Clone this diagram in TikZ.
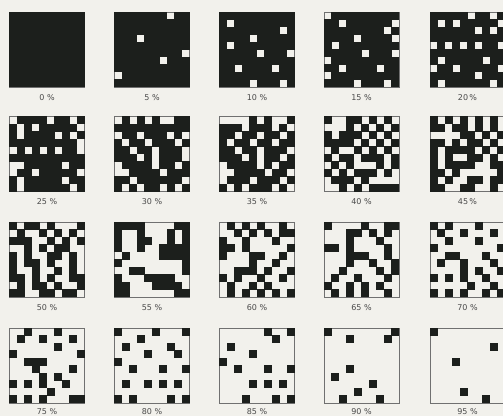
\documentclass[tikz,border=0pt]{standalone}
\usepackage{fontspec}
\setmainfont{DejaVu Sans}
\definecolor{paper}{HTML}{F2F1EC}
\definecolor{inkc}{HTML}{1C1F1C}
\definecolor{framec}{HTML}{707070}
\definecolor{labelc}{HTML}{4A4A4A}
\tikzset{
  inkfill/.style={fill=inkc},
  tileframe/.style={draw=framec, line width=0.7pt},
  lbl/.style={font=\fontsize{8}{9}\selectfont, text=labelc, inner sep=0pt, anchor=center}
}
\newcount\colidx
\def\lbloff{85.5}
\def\tilerow#1{\colidx=0 \tilerowA#1\relax}
\def\tilerowA#1{%
  \ifx#1\relax\else
    \if#1X\fill[inkfill] ({\tx+\the\colidx*7.5-0.15},{\ty+\ri*7.5-0.15}) rectangle ++(7.8,7.8);\fi
    \advance\colidx by 1
    \expandafter\tilerowA
  \fi}
\newcommand\drawtile[5]{%
  \def\tx{#1}\def\ty{#2}%
  \draw[tileframe] (#1,#2) rectangle ++(75,75);
  \foreach \rowstr [count=\ri from 0] in {#3}{\expandafter\tilerow\expandafter{\rowstr}}
  \node[lbl] (#5) at (#1+37.5,#2+\lbloff) {#4};
}
\begin{document}
\begin{tikzpicture}[x=1pt,y=-1pt]
\fill[paper] (0,0) rectangle (503,416);
\useasboundingbox (0,0) rectangle (503,416);
% row 1
\drawtile{9.5}{12}{XXXXXXXXXX,XXXXXXXXXX,XXXXXXXXXX,XXXXXXXXXX,XXXXXXXXXX,XXXXXXXXXX,XXXXXXXXXX,XXXXXXXXXX,XXXXXXXXXX,XXXXXXXXXX}{0 \%}{l0}
\drawtile{114.5}{12}{XXXXXXXoXX,XXXXXXXXXX,XXXXXXXXXX,XXXoXXXXXX,XXXXXXXXXX,XXXXXXXXXo,XXXXXXoXXX,XXXXXXXXXX,oXXXXXXXXX,XXXXXXXXXX}{5 \%}{l5}
\drawtile{219.5}{12}{XXXXXXXXXX,XoXXXXXXXX,XXXXXXXXoX,XXXXoXXXXX,XoXXXXXXXX,XXXXXoXXXo,XXXXXXXXXX,XXoXXXXoXX,XXXXXXXXXX,XXXXoXXXoX}{10 \%}{l10}
\drawtile{324}{12}{oXXXXXXXXX,XXoXXXXXXo,XXXXXXXXoX,XXXXoXXXXo,XoXXXXXXXX,XXXXXoXXXo,oXXXXXXXXX,XXoXXXXoXX,oXXXXXXXXX,XXXXoXXXoX}{15 \%}{l15}
\drawtile{430}{12}{XXXXXoXXoX,XoXoXXXXXo,XXXXXXoXoX,XXXXXXXXXX,oXoXoXoXXo,XXXXXXXXXX,XoXXXXXoXX,oXXoXXXXXo,XXXXXXoXXX,XoXXXXXXoX}{20\,\%}{l20}
% row 2
\drawtile{9.5}{116.5}{oXXXXoXXoX,XoXoXXXXXo,XoXXXXoXoX,XXXXXXXXXo,oXoXoXoXXo,XXXXXXXXXX,ooXXXXXoXX,oXXoXXXXXo,XoXXXXXoXX,XoXXXXXXoX}{25 \%}{l25}
\drawtile{114.5}{116.5}{oXoXoXooXX,XXXXXXXXXX,oXXoXXXoXo,XoXXoXXXoX,XXoXXoXXXo,XXXoXoXXXo,oXXXXoXXoX,ooXXXXoXXX,XXoXXXXXXo,XoXoXXoXoX}{30 \%}{l30}
\drawtile{219.5}{116.5}{ooooXoXooX,XXXoXXXoXo,XXoXXoXXoX,XoXXoXXoXX,XXoXXoXXXo,XXXoXoXXoX,oXXXXoXoXX,ooXXXXoXXo,oXXXoXXXoX,XoXoXXXoXo}{35 \%}{l35}
\drawtile{324}{116.5}{XooXXoXoXo,oooXoXoXoX,XoXXXoXoXo,XXXXoXoXoX,oXooXoXoXo,XoXXoXXXoX,oXoXoooXoX,XoXoXXXoXo,oXXXoXoooo,ooXoXoXXXX}{40 \%}{l40}
\drawtile{430}{116.5}{XoXoXoXoXo,XXoXXoXoXo,ooooXXoXoX,XXoXoXXoXo,XoXXXXoXoX,XoXooXXoXo,XoXXXXooXX,XXoXoooooX,XoXooXXoXX,XXooXXooXo}{45\,\%}{l45}
% row 3
\drawtile{9.5}{222}{XoXXoXoooX,oXooXoXoXo,XXXooXoXoX,ooXoXoXXoo,XoXooXXoXo,XoXXoXooXo,XooXooXoXo,XXoXoXooXX,oXoXXoXooX,XXooXXoXXo}{50 \%}{l50}
\drawtile{114.5}{222}{XXXXooooXX,XooXoooXoX,XooXXooXoX,XooXooXXXX,oXooooXXXX,XooooooooX,ooXXoooooX,XoooXXXXoo,XXoooXXXXo,XXooooooXX}{55 \%}{l55}
\drawtile{219.5}{222}{oXoXoXooXo,ooXoXoXoXX,XooXoooXoo,XXoXoooooX,XoooXXooXo,ooooXooXoo,ooXXXoXooX,XoXooXooXo,oXooXoXooo,oXoXoXoXoX}{60 \%}{l60}
\drawtile{324}{222}{XooooXooXX,oooXXoXoXo,oooXoooXoo,XXoXooooXo,oooXXXooXo,oooXooXooX,ooXooooXoX,oXooXoooXo,XooXoXoXoo,oXoXoXooXo}{65 \%}{l65}
\drawtile{430}{222}{XoXoooXooo,oXooXoooXo,ooXoooXooo,XooooooooX,ooXXoooXoo,oXooXoooXo,ooooXoXooX,XoXoXooXoo,oooooXooXo,XoXoXooXoX}{70 \%}{l70}
% row 4
\def\lbloff{83.5}
\drawtile{9.5}{328}{ooXoooXooo,oXooXoooXo,ooooooXooo,XooooooooX,ooXXXooooo,oooXooooXo,ooooXoXooo,XoXoXooXoo,oooooXoooo,XoXoXoooXX}{75 \%}{l75}
\drawtile{114.5}{328}{XooooXoooX,oooXoooooo,oXoooooXoo,ooooXoooXo,Xooooooooo,ooXoooXooX,oooooooooo,oXooXoXoXo,oooooooooo,XoXooooXoX}{80 \%}{l80}
\drawtile{219.5}{328}{ooooooXooX,oooooooXoo,oXoooooooo,ooooXooooo,Xooooooooo,ooXoooXooX,oooooooooo,ooooXoXoXo,oooooooooo,oooXoooXoX}{85 \%}{l85}
\drawtile{324}{328}{XooooooooX,oooXooooXo,oooooooooo,oooooooooo,oooooooooo,oooXoooooo,oXoooooooo,ooooooXooo,ooooXooooo,ooXooooXoo}{90 \%}{l90}
\drawtile{430}{328}{Xooooooooo,oooooooooo,ooooooooXo,oooooooooo,oooXoooooo,oooooooooo,oooooooooo,oooooooooo,ooooXooooo,oooooooXoo}{95 \%}{l95}
\end{tikzpicture}
\end{document}
